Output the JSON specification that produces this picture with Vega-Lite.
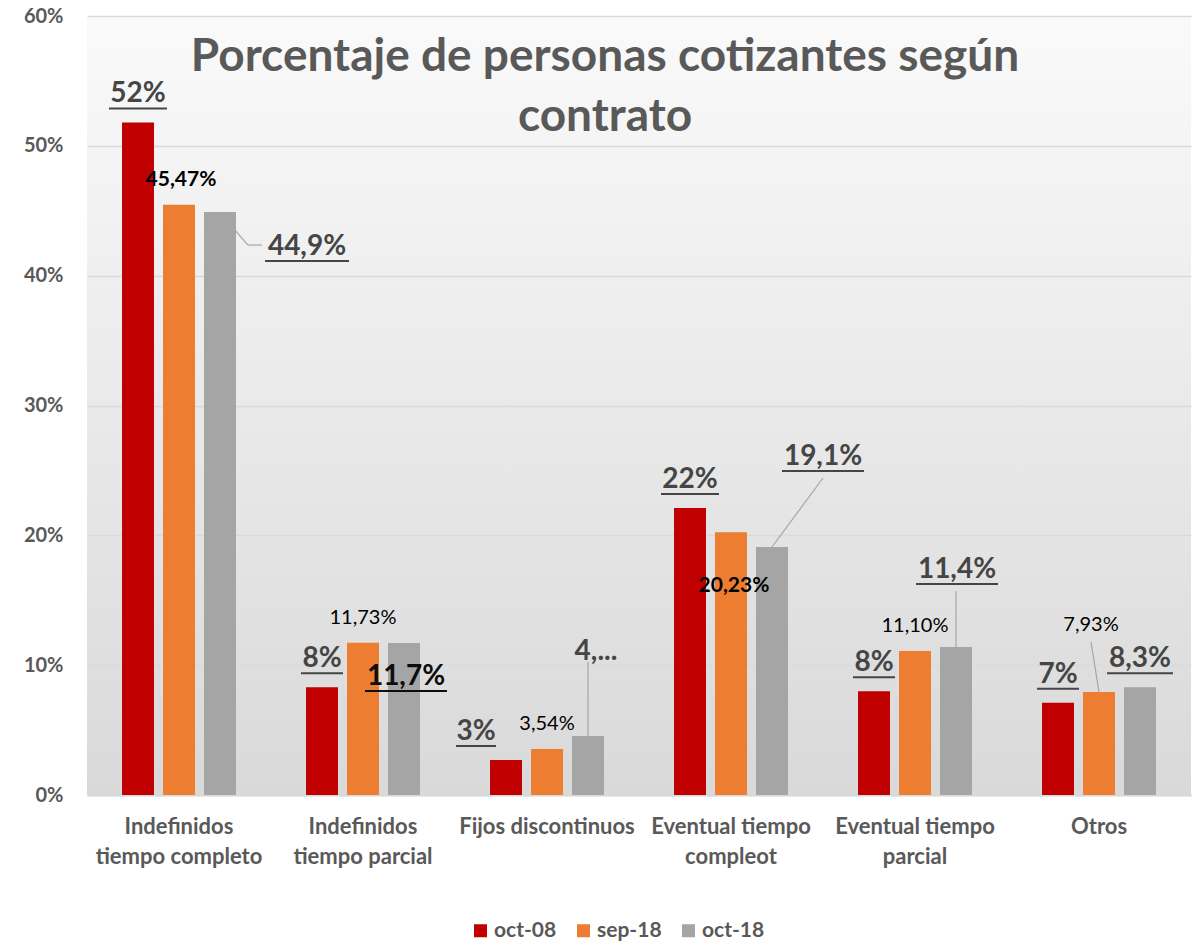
{
  "$schema": "https://vega.github.io/schema/vega-lite/v6.json",
  "width": 1104,
  "height": 779,
  "autosize": {"type": "none"},
  "padding": {"left": 87, "top": 16, "right": 7, "bottom": 147},
  "background": "white",
  "title": {
    "text": ["Porcentaje de personas cotizantes según", "contrato"],
    "font": "Lato", "fontSize": 46, "fontWeight": "bold", "color": "#595959",
    "anchor": "middle", "frame": "group", "dx": -34, "offset": -181, "baseline": "bottom", "lineHeight": 60
  },
  "data": {"values": [
    {"tipo": "Indefinidos tiempo completo", "serie": "oct-08", "valor": 0.518, "etiqueta": "52%"},
    {"tipo": "Indefinidos tiempo completo", "serie": "sep-18", "valor": 0.4547, "etiqueta": "45,47%"},
    {"tipo": "Indefinidos tiempo completo", "serie": "oct-18", "valor": 0.449, "etiqueta": "44,9%"},
    {"tipo": "Indefinidos tiempo parcial", "serie": "oct-08", "valor": 0.083, "etiqueta": "8%"},
    {"tipo": "Indefinidos tiempo parcial", "serie": "sep-18", "valor": 0.1173, "etiqueta": "11,73%"},
    {"tipo": "Indefinidos tiempo parcial", "serie": "oct-18", "valor": 0.117, "etiqueta": "11,7%"},
    {"tipo": "Fijos discontinuos", "serie": "oct-08", "valor": 0.027, "etiqueta": "3%"},
    {"tipo": "Fijos discontinuos", "serie": "sep-18", "valor": 0.0354, "etiqueta": "3,54%"},
    {"tipo": "Fijos discontinuos", "serie": "oct-18", "valor": 0.0455, "etiqueta": "4,..."},
    {"tipo": "Eventual tiempo compleot", "serie": "oct-08", "valor": 0.221, "etiqueta": "22%"},
    {"tipo": "Eventual tiempo compleot", "serie": "sep-18", "valor": 0.2023, "etiqueta": "20,23%"},
    {"tipo": "Eventual tiempo compleot", "serie": "oct-18", "valor": 0.191, "etiqueta": "19,1%"},
    {"tipo": "Eventual tiempo parcial", "serie": "oct-08", "valor": 0.080, "etiqueta": "8%"},
    {"tipo": "Eventual tiempo parcial", "serie": "sep-18", "valor": 0.111, "etiqueta": "11,10%"},
    {"tipo": "Eventual tiempo parcial", "serie": "oct-18", "valor": 0.114, "etiqueta": "11,4%"},
    {"tipo": "Otros", "serie": "oct-08", "valor": 0.071, "etiqueta": "7%"},
    {"tipo": "Otros", "serie": "sep-18", "valor": 0.0793, "etiqueta": "7,93%"},
    {"tipo": "Otros", "serie": "oct-18", "valor": 0.083, "etiqueta": "8,3%"}
  ]},
  "encoding": {
    "x": {
      "field": "tipo", "type": "nominal",
      "sort": ["Indefinidos tiempo completo", "Indefinidos tiempo parcial", "Fijos discontinuos", "Eventual tiempo compleot", "Eventual tiempo parcial", "Otros"],
      "scale": {"paddingInner": 0, "paddingOuter": 0},
      "axis": {
        "title": null, "labelAngle": 0, "labelFont": "Lato", "labelFontSize": 22, "labelFontWeight": "bold",
        "labelColor": "#595959", "labelPadding": 21, "labelLineHeight": 30, "labelLimit": 300,
        "ticks": false, "domainColor": "#d9d9d9", "domainWidth": 2, "grid": false,
        "labelExpr": "datum.label == 'Indefinidos tiempo completo' ? ['Indefinidos', 'tiempo completo'] : datum.label == 'Indefinidos tiempo parcial' ? ['Indefinidos', 'tiempo parcial'] : datum.label == 'Eventual tiempo compleot' ? ['Eventual tiempo', 'compleot'] : datum.label == 'Eventual tiempo parcial' ? ['Eventual tiempo', 'parcial'] : datum.label"
      }
    },
    "xOffset": {
      "field": "serie", "type": "nominal", "sort": ["oct-08", "sep-18", "oct-18"],
      "scale": {"paddingInner": 0.22, "paddingOuter": 0.854}
    },
    "y": {
      "field": "valor", "type": "quantitative",
      "scale": {"domain": [0, 0.6], "nice": false},
      "axis": {
        "title": null, "format": ".0%", "values": [0, 0.1, 0.2, 0.3, 0.4, 0.5, 0.6],
        "domain": false, "ticks": false, "labelFont": "Lato", "labelFontSize": 20, "labelFontWeight": "bold",
        "labelColor": "#595959", "labelPadding": 24, "gridColor": "#d9d9d9", "gridWidth": 1.5
      }
    }
  },
  "layer": [
    {
      "mark": {"type": "bar"},
      "encoding": {
        "color": {
          "field": "serie", "type": "nominal",
          "scale": {"domain": ["oct-08", "sep-18", "oct-18"], "range": ["#c00000", "#ed7d31", "#a5a5a5"]},
          "legend": {
            "title": null, "orient": "none", "direction": "horizontal", "legendX": 383, "legendY": 904,
            "symbolType": "square", "symbolSize": 169, "symbolStrokeWidth": 0, "labelFont": "Lato",
            "labelFontSize": 21, "labelFontWeight": "bold", "labelColor": "#595959", "columnPadding": 16, "labelOffset": 3
          }
        }
      }
    },
    {
      "transform": [{"filter": "datum.serie == 'oct-18' && datum.tipo == 'Indefinidos tiempo completo'"}],
      "mark": {"type": "rule", "color": "#a6a6a6", "strokeWidth": 1.2, "yOffset": 18, "x2Offset": 69, "y2Offset": 33},
      "encoding": {"xOffset": {"value": 148}, "x2": {"field": "tipo"}, "y2": {"field": "valor"}}
    },
    {
      "transform": [{"filter": "datum.serie == 'oct-18' && datum.tipo == 'Indefinidos tiempo completo'"}],
      "mark": {"type": "rule", "color": "#a6a6a6", "strokeWidth": 1.2, "yOffset": 33, "x2Offset": 83, "y2Offset": 33},
      "encoding": {"xOffset": {"value": 161}, "x2": {"field": "tipo"}, "y2": {"field": "valor"}}
    },
    {
      "transform": [{"filter": "datum.serie == 'oct-18' && datum.tipo == 'Fijos discontinuos'"}],
      "mark": {"type": "rule", "color": "#a6a6a6", "strokeWidth": 1.2, "y2Offset": -74},
      "encoding": {"y2": {"field": "valor"}}
    },
    {
      "transform": [{"filter": "datum.serie == 'oct-18' && datum.tipo == 'Eventual tiempo compleot'"}],
      "mark": {"type": "rule", "color": "#a6a6a6", "strokeWidth": 1.2, "x2Offset": 92, "y2Offset": -69},
      "encoding": {"x2": {"field": "tipo"}, "y2": {"field": "valor"}}
    },
    {
      "transform": [{"filter": "datum.serie == 'oct-18' && datum.tipo == 'Eventual tiempo parcial'"}],
      "mark": {"type": "rule", "color": "#a6a6a6", "strokeWidth": 1.2, "y2Offset": -56},
      "encoding": {"y2": {"field": "valor"}}
    },
    {
      "transform": [{"filter": "datum.serie == 'sep-18' && datum.tipo == 'Otros'"}],
      "mark": {"type": "rule", "color": "#a6a6a6", "strokeWidth": 1.2, "x2Offset": -8, "y2Offset": -50},
      "encoding": {"x2": {"field": "tipo"}, "y2": {"field": "valor"}}
    },
    {
      "transform": [{"filter": "(datum.serie == 'oct-08' && datum.tipo != 'Fijos discontinuos') || (datum.serie == 'oct-18' && datum.tipo == 'Otros')"}],
      "mark": {"type": "text", "dy": -28, "fontSize": 28, "fontWeight": "bold", "font": "Lato", "color": "#454545", "baseline": "middle"},
      "encoding": {"text": {"field": "etiqueta"}}
    },
    {
      "transform": [{"filter": "datum.serie == 'oct-08' && (datum.tipo == 'Indefinidos tiempo completo' || datum.tipo == 'Eventual tiempo compleot')"}],
      "mark": {"type": "rule", "color": "#454545", "strokeWidth": 2, "x2Offset": -12, "yOffset": -14, "y2Offset": -14},
      "encoding": {"xOffset": {"value": 22}, "x2": {"field": "tipo"}, "y2": {"field": "valor"}}
    },
    {
      "transform": [{"filter": "datum.serie == 'oct-08' && (datum.tipo == 'Indefinidos tiempo parcial' || datum.tipo == 'Eventual tiempo parcial' || datum.tipo == 'Otros')"}],
      "mark": {"type": "rule", "color": "#454545", "strokeWidth": 2, "x2Offset": -20, "yOffset": -14, "y2Offset": -14},
      "encoding": {"xOffset": {"value": 30}, "x2": {"field": "tipo"}, "y2": {"field": "valor"}}
    },
    {
      "transform": [{"filter": "datum.serie == 'oct-18' && datum.tipo == 'Otros'"}],
      "mark": {"type": "rule", "color": "#454545", "strokeWidth": 2, "x2Offset": 74, "yOffset": -14, "y2Offset": -14},
      "encoding": {"xOffset": {"value": 100}, "x2": {"field": "tipo"}, "y2": {"field": "valor"}}
    },
    {
      "transform": [{"filter": "datum.serie == 'oct-08' && datum.tipo == 'Fijos discontinuos'"}],
      "mark": {"type": "text", "dx": -30, "dy": -28, "fontSize": 28, "fontWeight": "bold", "font": "Lato", "color": "#454545", "baseline": "middle"},
      "encoding": {"text": {"field": "etiqueta"}}
    },
    {
      "transform": [{"filter": "datum.serie == 'oct-08' && datum.tipo == 'Fijos discontinuos'"}],
      "mark": {"type": "rule", "color": "#454545", "strokeWidth": 2, "x2Offset": -51, "yOffset": -14, "y2Offset": -14},
      "encoding": {"xOffset": {"value": 1}, "x2": {"field": "tipo"}, "y2": {"field": "valor"}}
    },
    {
      "transform": [{"filter": "datum.serie == 'oct-18' && datum.tipo == 'Indefinidos tiempo completo'"}],
      "mark": {"type": "text", "dx": 87, "dy": 35, "fontSize": 28, "fontWeight": "bold", "font": "Lato", "color": "#454545", "baseline": "middle"},
      "encoding": {"text": {"field": "etiqueta"}}
    },
    {
      "transform": [{"filter": "datum.serie == 'oct-18' && datum.tipo == 'Indefinidos tiempo completo'"}],
      "mark": {"type": "rule", "color": "#454545", "strokeWidth": 2, "x2Offset": 170, "yOffset": 49, "y2Offset": 49},
      "encoding": {"xOffset": {"value": 178}, "x2": {"field": "tipo"}, "y2": {"field": "valor"}}
    },
    {
      "transform": [{"filter": "datum.serie == 'oct-18' && datum.tipo == 'Indefinidos tiempo parcial'"}],
      "mark": {"type": "text", "dx": 2, "dy": 34, "fontSize": 28, "fontWeight": "bold", "font": "Lato", "color": "#0d0d0d", "baseline": "middle"},
      "encoding": {"text": {"field": "etiqueta"}}
    },
    {
      "transform": [{"filter": "datum.serie == 'oct-18' && datum.tipo == 'Indefinidos tiempo parcial'"}],
      "mark": {"type": "rule", "color": "#0d0d0d", "strokeWidth": 2, "x2Offset": 84, "yOffset": 48, "y2Offset": 48},
      "encoding": {"xOffset": {"value": 94}, "x2": {"field": "tipo"}, "y2": {"field": "valor"}}
    },
    {
      "transform": [{"filter": "datum.serie == 'oct-18' && datum.tipo == 'Fijos discontinuos'"}],
      "mark": {"type": "text", "dx": 8, "dy": -84, "fontSize": 28, "fontWeight": "bold", "font": "Lato", "color": "#454545", "baseline": "middle"},
      "encoding": {"text": {"field": "etiqueta"}}
    },
    {
      "transform": [{"filter": "datum.serie == 'oct-18' && datum.tipo == 'Eventual tiempo compleot'"}],
      "mark": {"type": "text", "dx": 51, "dy": -90, "fontSize": 28, "fontWeight": "bold", "font": "Lato", "color": "#454545", "baseline": "middle"},
      "encoding": {"text": {"field": "etiqueta"}}
    },
    {
      "transform": [{"filter": "datum.serie == 'oct-18' && datum.tipo == 'Eventual tiempo compleot'"}],
      "mark": {"type": "rule", "color": "#454545", "strokeWidth": 2, "x2Offset": 133, "yOffset": -76, "y2Offset": -76},
      "encoding": {"xOffset": {"value": 143}, "x2": {"field": "tipo"}, "y2": {"field": "valor"}}
    },
    {
      "transform": [{"filter": "datum.serie == 'oct-18' && datum.tipo == 'Eventual tiempo parcial'"}],
      "mark": {"type": "text", "dx": 1, "dy": -77, "fontSize": 28, "fontWeight": "bold", "font": "Lato", "color": "#454545", "baseline": "middle"},
      "encoding": {"text": {"field": "etiqueta"}}
    },
    {
      "transform": [{"filter": "datum.serie == 'oct-18' && datum.tipo == 'Eventual tiempo parcial'"}],
      "mark": {"type": "rule", "color": "#454545", "strokeWidth": 2, "x2Offset": 83, "yOffset": -63, "y2Offset": -63},
      "encoding": {"xOffset": {"value": 93}, "x2": {"field": "tipo"}, "y2": {"field": "valor"}}
    },
    {
      "transform": [{"filter": "datum.serie == 'sep-18' && datum.tipo == 'Indefinidos tiempo completo'"}],
      "mark": {"type": "text", "dx": 2, "dy": -25, "fontSize": 21, "fontWeight": "bold", "font": "Lato", "color": "#000000", "baseline": "middle"},
      "encoding": {"text": {"field": "etiqueta"}}
    },
    {
      "transform": [{"filter": "datum.serie == 'sep-18' && datum.tipo == 'Eventual tiempo compleot'"}],
      "mark": {"type": "text", "dx": 3, "dy": 54, "fontSize": 21, "fontWeight": "bold", "font": "Lato", "color": "#000000", "baseline": "middle"},
      "encoding": {"text": {"field": "etiqueta"}}
    },
    {
      "transform": [{"filter": "datum.serie == 'sep-18' && (datum.tipo == 'Indefinidos tiempo parcial' || datum.tipo == 'Fijos discontinuos' || datum.tipo == 'Eventual tiempo parcial')"}],
      "mark": {"type": "text", "dy": -25, "fontSize": 20, "font": "Lato", "color": "#000000", "baseline": "middle"},
      "encoding": {"text": {"field": "etiqueta"}}
    },
    {
      "transform": [{"filter": "datum.serie == 'sep-18' && datum.tipo == 'Otros'"}],
      "mark": {"type": "text", "dx": -8, "dy": -67, "fontSize": 20, "font": "Lato", "color": "#000000", "baseline": "middle"},
      "encoding": {"text": {"field": "etiqueta"}}
    }
  ],
  "config": {
    "view": {
      "stroke": null,
      "fill": {"gradient": "linear", "x1": 0, "y1": 0, "x2": 0, "y2": 1, "stops": [{"offset": 0, "color": "#fafafa"}, {"offset": 1, "color": "#d9d9d9"}]}
    }
  }
}
